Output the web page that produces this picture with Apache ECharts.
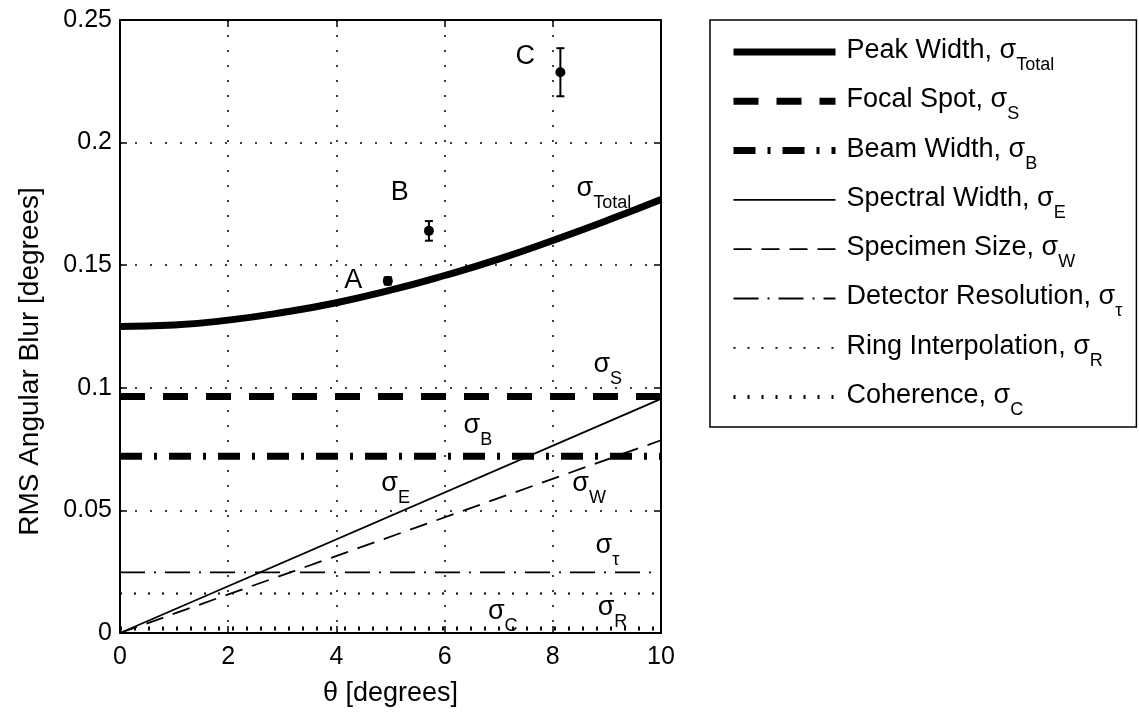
<!DOCTYPE html>
<html><head><meta charset="utf-8">
<script src="https://cdn.jsdelivr.net/npm/echarts@6/dist/echarts.min.js"></script>
<style>html,body{margin:0;padding:0;background:#fff}#c{width:1139px;height:714px}</style>
</head><body><div id="c"></div>
<script>
// ---- data ----
const thetaGrid   = [0, 1, 2, 3, 4, 5, 6, 7, 8, 9, 10];
const peakWidth   = [0.125, 0.1256, 0.1276, 0.1307, 0.1347, 0.1398, 0.1458, 0.1525, 0.1601, 0.1682, 0.1768];
const lineEnds    = [0, 10];
const focalSpot   = [0.0965, 0.0965];
const beamWidth   = [0.0721, 0.0721];
const spectralWidth = [0, 0.0955];
const specimenSize  = [0, 0.0786];
const detectorRes   = [0.0247, 0.0247];
const ringInterp    = [0.0161, 0.0161];
const coherence     = [0.0018, 0.0018];

const sampleNames = ['A', 'B', 'C'];
const sampleTheta = [4.95, 5.71, 8.14];
const sampleBlur  = [0.1436, 0.164, 0.2287];
const sampleErr   = [0.0015, 0.004, 0.0098];
const sampleLabelTheta = [4.31, 5.17, 7.49];
const sampleLabelBlur  = [0.1436, 0.1798, 0.2352];

const legendNames = ['Peak Width', 'Focal Spot', 'Beam Width', 'Spectral Width', 'Specimen Size', 'Detector Resolution', 'Ring Interpolation', 'Coherence'];
const legendSubs  = ['Total', 'S', 'B', 'E', 'W', 'τ', 'R', 'C'];

const sigmaSubs   = ['Total', 'S', 'B', 'E', 'W', 'τ', 'C', 'R'];
const sigmaTheta  = [8.44, 8.75, 6.35, 4.83, 8.36, 8.79, 6.80, 8.83];
const sigmaBlur   = [0.1805, 0.109, 0.084, 0.0603, 0.0603, 0.0352, 0.0082, 0.0098];

const xTicks = [0, 2, 4, 6, 8, 10];
const yTicks = ['0', '0.05', '0.1', '0.15', '0.2', '0.25'];

// ---- styling ----
const F = '"Liberation Sans", Arial, Helvetica, sans-serif';
const K = '#000';
const styles = [
  {width: 7, type: 'solid'},
  {width: 7, type: [25, 18]},
  {width: 7, type: [22, 12, 3, 12]},
  {width: 1.8, type: 'solid'},
  {width: 1.8, type: [18, 10]},
  {width: 1.8, type: [25, 9, 2, 9]},
  {width: 1.8, type: [2, 12]},
  {width: 4, type: [2, 12]}
];
const pairs = (xs, ys) => xs.map((x, i) => [x, ys[i]]);
const lineData = [
  pairs(thetaGrid, peakWidth),
  pairs(lineEnds, focalSpot),
  pairs(lineEnds, beamWidth),
  pairs(lineEnds, spectralWidth),
  pairs(lineEnds, specimenSize),
  pairs(lineEnds, detectorRes),
  pairs(lineEnds, ringInterp),
  pairs(lineEnds, coherence)
];

const subRich = {
  t: {fontSize: 27, lineHeight: 30, verticalAlign: 'top', color: K, fontFamily: F, padding: [0, 0, 0, 6]},
  s: {fontSize: 27, lineHeight: 30, verticalAlign: 'top', color: K, fontFamily: F},
  b: {fontSize: 18, lineHeight: 20, verticalAlign: 'top', color: K, fontFamily: F, padding: [19, 0, 0, 0]}
};
const labRich = {
  s: {fontSize: 27, lineHeight: 30, verticalAlign: 'top', color: K, fontFamily: F, opacity: 1},
  b: {fontSize: 18, lineHeight: 20, verticalAlign: 'top', color: K, fontFamily: F, opacity: 1, padding: [19, 0, 0, 0]}
};

const series = legendNames.map((n, i) => ({
  name: n, type: 'line', data: lineData[i], symbol: 'none', showSymbol: false, smooth: i === 0,
  lineStyle: {color: K, width: styles[i].width, type: styles[i].type, cap: 'butt'},
  itemStyle: {color: K}, z: 3, silent: true
}));

series.push({
  type: 'custom', name: 'err', z: 5,
  data: sampleTheta.map((x, i) => [x, sampleBlur[i] - sampleErr[i], sampleBlur[i] + sampleErr[i]]),
  encode: {x: 0, y: [1, 2]},
  renderItem: (params, api) => {
    const x = api.value(0), lo = api.value(1), hi = api.value(2);
    const p1 = api.coord([x, hi]), p2 = api.coord([x, lo]);
    const w = 4, st = {stroke: K, lineWidth: 2};
    return {type: 'group', children: [
      {type: 'line', shape: {x1: p1[0], y1: p1[1], x2: p2[0], y2: p2[1]}, style: st},
      {type: 'line', shape: {x1: p1[0] - w, y1: p1[1], x2: p1[0] + w, y2: p1[1]}, style: st},
      {type: 'line', shape: {x1: p2[0] - w, y1: p2[1], x2: p2[0] + w, y2: p2[1]}, style: st}
    ]};
  }
});
series.push({
  type: 'scatter', name: 'samples', z: 6, symbol: 'circle', symbolSize: 10,
  itemStyle: {color: K, opacity: 1}, data: pairs(sampleTheta, sampleBlur)
});
series.push({
  type: 'scatter', name: 'sampleLabels', z: 7, symbolSize: 0, itemStyle: {color: K, opacity: 1},
  data: sampleNames.map((n, i) => [sampleLabelTheta[i], sampleLabelBlur[i], n]),
  label: {show: true, position: [0, 0], align: 'center', verticalAlign: 'middle', opacity: 1,
    textBorderWidth: 0, formatter: p => p.value[2], fontSize: 27, color: K, fontFamily: F}
});
series.push({
  type: 'scatter', name: 'sigmaLabels', z: 7, symbolSize: 0, itemStyle: {color: K, opacity: 1},
  data: sigmaSubs.map((s, i) => [sigmaTheta[i], sigmaBlur[i], s]),
  label: {show: true, position: [0, 0], align: 'left', verticalAlign: 'top', offset: [0, -15], opacity: 1,
    textBorderWidth: 0, color: K,
    formatter: p => '{s|σ}{b|' + p.value[2] + '}', rich: labRich}
});

const axisLine = {show: true, onZero: false, lineStyle: {color: K, width: 2}};
const axisTick = {show: true, inside: true, length: 7, lineStyle: {color: K, width: 1.5}};
const grid = {left: 120, right: 478, top: 20, bottom: 81};

const option = {
  animation: false,
  backgroundColor: '#fff',
  grid: grid,
  xAxis: [{
    type: 'value', min: 0, max: 10, interval: 2,
    axisLine, axisTick,
    axisLabel: {color: K, fontSize: 25, fontFamily: F, margin: 12,
      formatter: v => String(xTicks[Math.round(v / 2)])},
    splitLine: {show: true, lineStyle: {color: K, width: 1.5, type: [2, 13]}},
    name: 'θ [degrees]', nameLocation: 'middle', nameGap: 47,
    nameTextStyle: {color: K, fontSize: 27, fontFamily: F}
  }, {
    type: 'value', min: 0, max: 10, interval: 2, position: 'top',
    axisLine, axisTick, axisLabel: {show: false}, splitLine: {show: false}
  }],
  yAxis: [{
    type: 'value', min: 0, max: 0.25, interval: 0.05,
    axisLine, axisTick,
    axisLabel: {color: K, fontSize: 25, fontFamily: F, margin: 8,
      formatter: v => yTicks[Math.round(v / 0.05)]},
    splitLine: {show: true, lineStyle: {color: K, width: 1.5, type: [2, 13]}},
    name: 'RMS Angular Blur [degrees]', nameLocation: 'middle', nameGap: 76, nameRotate: 90,
    nameTextStyle: {color: K, fontSize: 28, fontFamily: F, padding: [0, 70, 0, 0]}
  }, {
    type: 'value', min: 0, max: 0.25, interval: 0.05, position: 'right',
    axisLine, axisTick, axisLabel: {show: false}, splitLine: {show: false}
  }],
  legend: {
    orient: 'vertical', left: 710, top: 20,
    itemWidth: 102, itemHeight: 14, itemGap: 12.3,
    padding: [17, 14, 8, 20],
    borderColor: K, borderWidth: 1.5, backgroundColor: '#fff',
    selectedMode: false,
    itemStyle: {opacity: 0, borderWidth: 0},
    data: legendNames.map((n, i) => ({
      name: n, itemStyle: {opacity: 0, borderWidth: 0},
      lineStyle: {color: K, width: styles[i].width, type: styles[i].type, cap: 'butt', opacity: 1}
    })),
    formatter: n => '{t|' + n + ', }{s|σ}{b|' + legendSubs[legendNames.indexOf(n)] + '}',
    textStyle: {color: K, fontFamily: F, rich: subRich}
  },
  series: series
};

const chart = echarts.init(document.getElementById('c'), null, {renderer: 'canvas'});
chart.setOption(option);
</script>
</body></html>
